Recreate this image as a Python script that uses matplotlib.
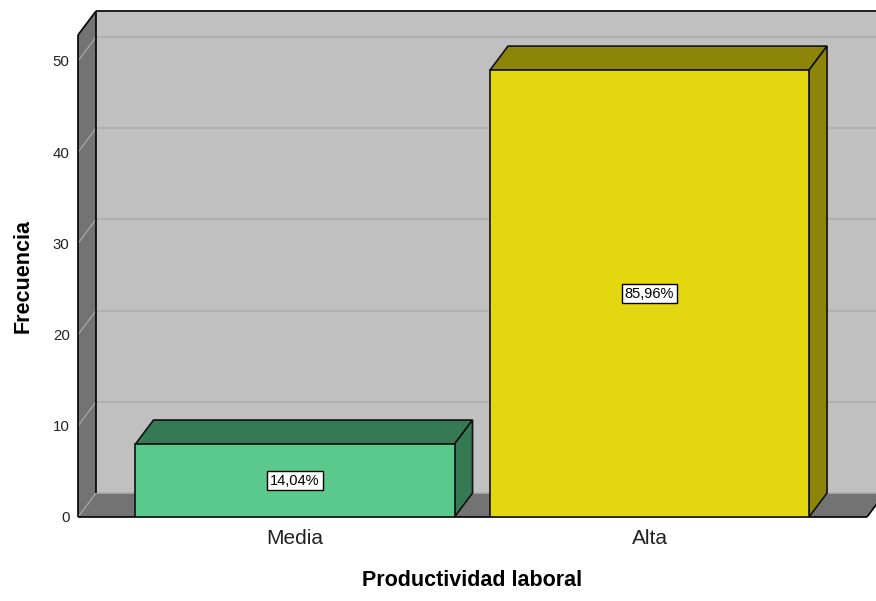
import matplotlib
matplotlib.use('Agg')
import matplotlib.pyplot as plt
from matplotlib.patches import Polygon

# ─── Data ────────────────────────────────────────────────────────────────────
categories = ["Media", "Alta"]
freqs      = [8, 49]
pct_labels = ["14,04%", "85,96%"]
yticks     = [0, 10, 20, 30, 40, 50]

# ─── Style ───────────────────────────────────────────────────────────────────
FRONT = ["#5bc98b", "#e3d70f"]
SHADE = ["#367a55", "#8c850a"]
WALL_BACK = "#c0c0c0"
WALL_SIDE = "#737373"
BAR_W = 0.9
# pixel geometry of the reference (px per unit)
PX_X, PX_Y = 354.5, 9.12
DX, DY = 18 / PX_X, 24 / PX_Y          # 3D depth offset in data units
XL, XR = (78 - 295) / PX_X, (867 - 295) / PX_X
YTOP = (517 - 35) / PX_Y               # top of front plane

plt.rcParams["font.family"] = ["Liberation Sans", "DejaVu Sans"]

W, H = 876, 601
fig = plt.figure(figsize=(W / 100, H / 100), dpi=100)
ax = fig.add_axes([78 / W, (H - 517) / H, (876 - 78) / W, (517 - 11) / H])
ax.set_xlim(XL, (876 - 295) / PX_X)
ax.set_ylim(0, YTOP + DY)
for s in ax.spines.values():
    s.set_visible(False)

def poly(pts, fc, ec="none", lw=0, z=1):
    ax.add_patch(Polygon(pts, closed=True, fc=fc, ec=ec, lw=lw, zorder=z,
                         clip_on=False, joinstyle="miter"))

def line(xs, ys, c, lw=1.0, z=2):
    ax.plot(xs, ys, color=c, lw=lw, zorder=z, clip_on=False,
            solid_capstyle="butt")

# walls
poly([(XL + DX, DY), (XR + DX, DY), (XR + DX, YTOP + DY), (XL + DX, YTOP + DY)], WALL_BACK)
poly([(XL, 0), (XL + DX, DY), (XL + DX, YTOP + DY), (XL, YTOP)], WALL_SIDE)
poly([(XL, 0), (XR, 0), (XR + DX, DY), (XL + DX, DY)], WALL_SIDE)

# grid lines
for t in yticks:
    line([XL + DX, XR + DX], [t + DY, t + DY], "#adadad", 1.2, z=1.5)
    line([XL, XL + DX], [t, t + DY], "#a3a3a3", 1.0, z=1.5)

# wall edges
line([XL + DX, XR + DX + 0.1], [YTOP + DY] * 2, "black", 1.2, z=3)
line([XL + DX, XL + DX], [DY, YTOP + DY], "black", 1.2, z=3)
line([XL, XL], [0, YTOP], "black", 1.2, z=3)
line([XL, XL + DX], [YTOP, YTOP + DY], "black", 1.2, z=3)
line([XL, XR], [0, 0], "black", 1.2, z=3)
line([XR, XR + DX], [0, DY], "black", 1.2, z=3)

# bars
x = list(range(len(categories)))
ax.bar(x, freqs, width=BAR_W, color=FRONT, edgecolor="#111111", linewidth=1.2, zorder=5)
for xi, f, sc in zip(x, freqs, SHADE):
    l, r = xi - BAR_W / 2, xi + BAR_W / 2
    poly([(l, f), (r, f), (r + DX, f + DY), (l + DX, f + DY)], sc, "#111111", 1.2, z=4)
    poly([(r, 0), (r + DX, DY), (r + DX, f + DY), (r, f)], sc, "#111111", 1.2, z=4)

for xi, f, lab in zip(x, freqs, pct_labels):
    ax.text(xi, f / 2, lab, ha="center", va="center", fontsize=10.5, zorder=6,
            bbox=dict(boxstyle="square,pad=0.2", fc="white", ec="black", lw=1.0))

ax.set_yticks(yticks)
ax.set_xticks(x)
ax.set_xticklabels(categories, fontsize=15, color="#222222")
ax.tick_params(axis="y", length=0, pad=6, labelsize=10.8, labelcolor="#222222")
ax.tick_params(axis="x", length=0, pad=9)

fig.text(23 / W, 1 - 276 / H, "Frecuencia", rotation=90, ha="center", va="center",
         fontsize=15.5, fontweight="bold")
fig.text(472 / W, 1 - 580 / H, "Productividad laboral", ha="center", va="center",
         fontsize=15.5, fontweight="bold")

fig.savefig("out.png", dpi=100, facecolor="white")
